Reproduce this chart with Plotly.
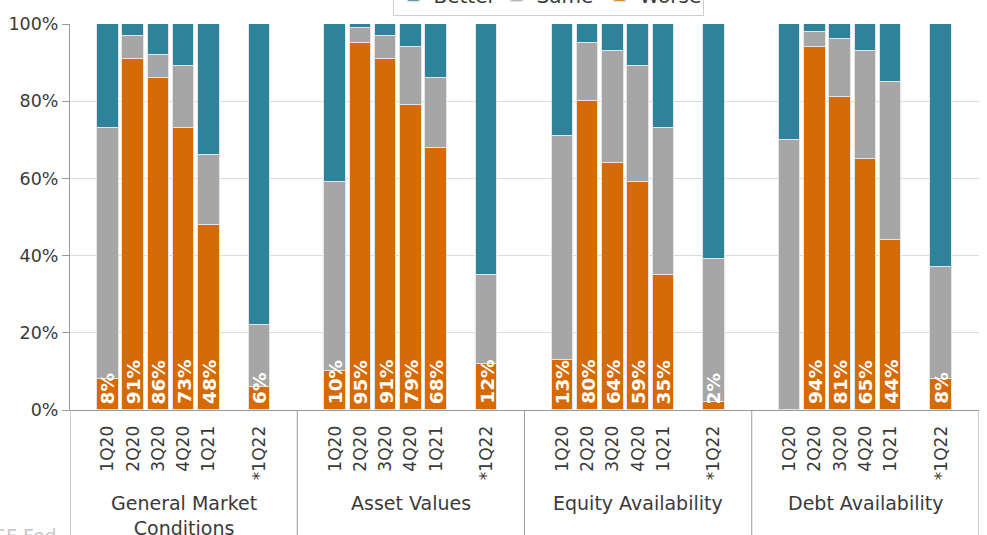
import plotly.graph_objects as go

# ---- data ----
groups = ["General Market<br>Conditions", "Asset Values", "Equity Availability", "Debt Availability"]
periods = ["1Q20", "2Q20", "3Q20", "4Q20", "1Q21", "*1Q22"]

worse_gmc = [8, 91, 86, 73, 48, 6]
same_gmc = [65, 6, 6, 16, 18, 16]
better_gmc = [27, 3, 8, 11, 34, 78]

worse_av = [10, 95, 91, 79, 68, 12]
same_av = [49, 4, 6, 15, 18, 23]
better_av = [41, 1, 3, 6, 14, 65]

worse_ea = [13, 80, 64, 59, 35, 2]
same_ea = [58, 15, 29, 30, 38, 37]
better_ea = [29, 5, 7, 11, 27, 61]

worse_da = [0, 94, 81, 65, 44, 8]
same_da = [70, 4, 15, 28, 41, 29]
better_da = [30, 2, 4, 7, 15, 63]

y_ticks = [0, 20, 40, 60, 80, 100]
y_tick_text = ["0%", "20%", "40%", "60%", "80%", "100%"]

# ---- styling ----
TEAL = "#2E839B"
GRAY = "#A6A6A6"
ORANGE = "#D66A05"
EDGE = "#E4E4E4"
AXIS = "#9A9A9A"
TXT = "#3A3A3A"
FONT = "DejaVu Sans, sans-serif"

slots = [1, 2, 3, 4, 5, 7]   # position of each period inside a group (gap before *1Q22)
n_slots = 9

worse_sets = [worse_gmc, worse_av, worse_ea, worse_da]
same_sets = [same_gmc, same_av, same_ea, same_da]
better_sets = [better_gmc, better_av, better_ea, better_da]

xs, worse_all, same_all, better_all, tick_text = [], [], [], [], []
for gi in range(len(groups)):
    for pi, p in enumerate(periods):
        xs.append(gi * n_slots + slots[pi])
        worse_all.append(worse_sets[gi][pi])
        same_all.append(same_sets[gi][pi])
        better_all.append(better_sets[gi][pi])
        tick_text.append(p)

fig = go.Figure()
bar_w = 0.86
fig.add_bar(x=xs, y=worse_all, name="Worse", width=bar_w,
            marker=dict(color=ORANGE, line=dict(color=EDGE, width=1.5)))
fig.add_bar(x=xs, y=same_all, name="Same", width=bar_w,
            marker=dict(color=GRAY, line=dict(color=EDGE, width=1.5)))
fig.add_bar(x=xs, y=better_all, name="Better", width=bar_w,
            marker=dict(color=TEAL, line=dict(color=EDGE, width=1.5)))

annotations = []
# value labels for "Worse"
for x, v in zip(xs, worse_all):
    if v > 0:
        annotations.append(dict(x=x, y=0, xref="x", yref="y", text=f"{v}%",
                                textangle=-90, showarrow=False, yanchor="bottom",
                                xanchor="center", yshift=4,
                                font=dict(family=FONT, size=18.5, color="white", weight="bold")))
# group labels
for gi, g in enumerate(groups):
    annotations.append(dict(x=gi * n_slots + (n_slots - 1) / 2, y=0, xref="x", yref="paper",
                            text=g, showarrow=False, yanchor="top", xanchor="center",
                            yshift=-80, font=dict(family=FONT, size=19, color=TXT)))
# source (cut off at the left and bottom edges)
annotations.append(dict(x=0, y=0, xref="paper", yref="paper", text="SF Fed",
                        showarrow=False, xanchor="right", yanchor="middle",
                        xshift=-11, yshift=-126,
                        font=dict(family=FONT, size=19, color="#C8C8C8")))

shapes = []
for k in range(len(groups) + 1):
    xd = k * n_slots - 0.5
    shapes.append(dict(type="line", xref="x", yref="paper", x0=xd, x1=xd, y0=0, y1=-0.34,
                       line=dict(color=AXIS, width=1)))

fig.update_layout(
    width=987, height=535,
    barmode="stack",
    plot_bgcolor="white", paper_bgcolor="white",
    margin=dict(l=70, r=8, t=24, b=125, autoexpand=False),
    font=dict(family=FONT, color=TXT, size=18),
    showlegend=True,
    legend=dict(orientation="h", traceorder="reversed",
                xref="container", yref="paper",
                x=548 / 987, xanchor="center", y=1 + 8 / 386, yanchor="bottom",
                entrywidth=58, entrywidthmode="pixels",
                bordercolor="#CFCFCF", borderwidth=1,
                font=dict(family=FONT, size=20, color=TXT)),
    xaxis=dict(range=[-0.5, len(groups) * n_slots - 0.5],
               tickmode="array", tickvals=xs, ticktext=tick_text, tickangle=-90,
               tickfont=dict(family=FONT, size=17, color=TXT),
               showgrid=False, zeroline=False, showline=True, linecolor=AXIS, linewidth=1,
               ticks="outside", ticklen=8, tickcolor="rgba(0,0,0,0)"),
    yaxis=dict(range=[0, 100], tickmode="array", tickvals=y_ticks, ticktext=y_tick_text,
               tickfont=dict(family=FONT, size=17.5, color=TXT),
               showgrid=True, gridcolor="#DCDCDC", gridwidth=1, zeroline=False,
               showline=True, linecolor=AXIS, linewidth=1,
               ticks="outside", ticklen=7, tickcolor=AXIS),
    annotations=annotations,
    shapes=shapes,
    bargap=0,
)

fig.write_html("out.html", config={"displayModeBar": False},
               post_script="document.body.style.margin='0';")
